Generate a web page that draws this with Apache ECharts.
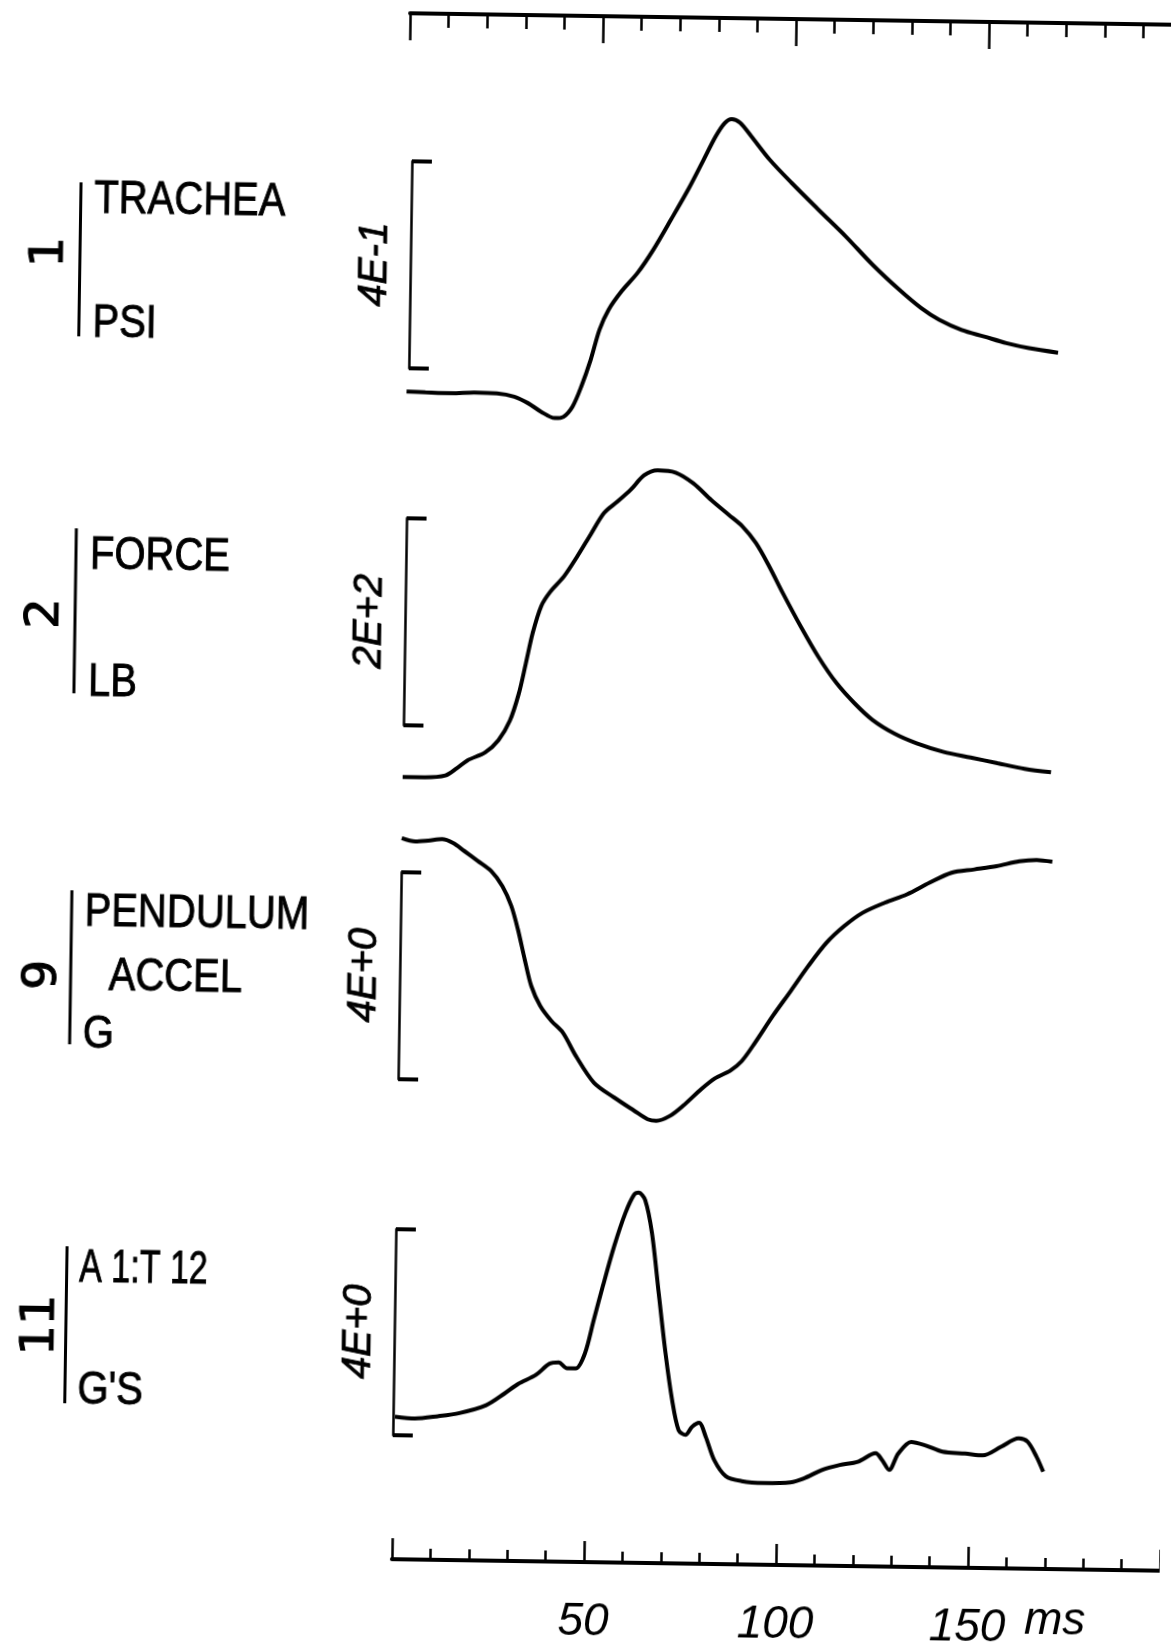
<!DOCTYPE html>
<html>
<head>
<meta charset="utf-8">
<script src="https://cdn.jsdelivr.net/npm/echarts@6/dist/echarts.min.js"></script>
<style>
  html, body { margin: 0; padding: 0; background: #fff; overflow: hidden; }
  #main { position: absolute; left: 0; top: 0; width: 1171px; height: 1646px; transform: rotate(0.86deg); }
</style>
</head>
<body>
<div id="main"></div>
<script>
// channel 1 - trachea pressure (psi)
const tracheaMs = [-0.5, 4.4, 11.3, 17.1, 23.0, 27.6, 31.2, 34.6, 38.2, 40.5, 42.8, 45.0, 47.3, 49.5, 51.8, 55.1, 59.2, 63.2, 67.7, 72.3, 75.6, 79.0, 81.3, 83.1, 85.3, 88.3, 93.1, 99.0, 106.1, 113.2, 120.3, 127.4, 133.2, 137.9, 143.8, 149.7, 155.5, 161.4, 169.0];
const tracheaPsi = [-0.045, -0.046, -0.047, -0.045, -0.046, -0.052, -0.064, -0.080, -0.092, -0.089, -0.069, -0.030, 0.021, 0.080, 0.119, 0.155, 0.191, 0.236, 0.295, 0.357, 0.406, 0.457, 0.483, 0.491, 0.484, 0.458, 0.414, 0.369, 0.318, 0.268, 0.214, 0.166, 0.131, 0.109, 0.090, 0.078, 0.066, 0.057, 0.049];

// channel 2 - force (lb)
const forceMs = [0.0, 5.8, 11.1, 14.0, 16.8, 21.4, 24.8, 27.7, 29.9, 31.6, 33.3, 35.4, 37.7, 41.2, 44.5, 48.0, 51.4, 54.8, 58.3, 61.7, 65.2, 69.9, 74.5, 79.3, 83.9, 87.5, 91.1, 94.6, 98.3, 103.1, 107.8, 112.6, 117.3, 122.1, 127.9, 133.7, 140.8, 147.8, 154.8, 161.9, 168.8];
const forceLb = [-50, -50, -48, -41, -33, -25, -13, 6, 32, 61, 91, 117, 131, 146, 165, 187, 208, 219, 231, 245, 250, 248, 238, 222, 208, 197, 181, 159, 133, 101, 72, 47, 28, 12, -1, -10, -18, -23, -28, -33, -36];

// channel 9 - pendulum accel (G)
const pendMs = [0.0, 3.5, 6.9, 10.5, 13.4, 16.3, 19.9, 23.4, 26.4, 28.8, 30.6, 32.5, 34.3, 36.7, 39.7, 42.7, 46.2, 51.0, 56.3, 61.6, 65.1, 67.4, 70.9, 74.3, 79.0, 82.5, 86.4, 89.4, 92.8, 97.3, 101.9, 106.4, 111.0, 115.6, 120.3, 126.0, 131.8, 137.6, 143.3, 149.2, 155.0, 160.9, 165.4, 169.5];
const pendG = [4.66, 4.60, 4.62, 4.65, 4.58, 4.43, 4.24, 4.05, 3.76, 3.38, 2.93, 2.35, 1.84, 1.46, 1.17, 0.95, 0.50, -0.01, -0.29, -0.54, -0.70, -0.73, -0.63, -0.43, -0.10, 0.11, 0.26, 0.45, 0.81, 1.33, 1.82, 2.31, 2.76, 3.09, 3.35, 3.55, 3.72, 3.95, 4.15, 4.22, 4.29, 4.39, 4.42, 4.39];

// channel 11 - A1:T12 (G's)
const spineMs = [0.5, 5.7, 11.6, 17.3, 24.2, 28.9, 32.4, 37.0, 40.5, 42.9, 45.1, 47.4, 49.7, 51.9, 54.1, 56.9, 59.7, 61.9, 63.1, 64.8, 66.7, 68.7, 70.7, 72.6, 74.4, 76.2, 77.9, 79.7, 81.5, 83.8, 86.9, 91.0, 96.8, 103.7, 107.2, 111.9, 116.5, 121.2, 125.8, 127.5, 129.4, 131.7, 135.0, 138.6, 143.2, 149.1, 153.7, 158.4, 163.0, 165.3, 167.7, 169.5];
const spineG = [0.36, 0.33, 0.38, 0.45, 0.61, 0.84, 1.03, 1.21, 1.43, 1.46, 1.35, 1.35, 1.64, 2.30, 2.95, 3.73, 4.38, 4.74, 4.78, 4.64, 4.00, 2.83, 1.67, 0.76, 0.18, 0.09, 0.25, 0.33, 0.06, -0.39, -0.70, -0.79, -0.82, -0.80, -0.72, -0.55, -0.45, -0.38, -0.21, -0.34, -0.53, -0.21, 0.02, -0.04, -0.16, -0.19, -0.22, -0.05, 0.12, 0.06, -0.23, -0.52];

// scale brackets (full bracket = one division) and their labels
const scaleMax = [0.4, 200, 4, 4];
const scaleNames = ['4E-1', '2E+2', '4E+0', '4E+0'];
const channelNums = ['1', '2', '9', '11'];
const channelLabels = [['TRACHEA', 'PSI'], ['FORCE', 'LB'], ['PENDULUM', 'ACCEL', 'G'], ['A 1:T 12', "G'S"]];

// time axis
const timeMin = 0, timeMax = 200, timeStep = 50;
const labeledTicks = [50, 100, 150];

const FONT = 'Liberation Sans, Arial, sans-serif';
const panelTop = [164, 521, 875, 1232];
const panelH = [207, 207, 207, 206];

const chart = echarts.init(document.getElementById('main'));

const curves = [
  [tracheaMs, tracheaPsi],
  [forceMs, forceLb],
  [pendMs, pendG],
  [spineMs, spineG]
];

const grid = [], xAxis = [], yAxis = [], series = [];
curves.forEach((c, i) => {
  grid.push({ left: 402, width: 768, top: panelTop[i], height: panelH[i], outerBoundsMode: 'none', containLabel: false });
  xAxis.push({ type: 'value', gridIndex: i, min: timeMin, max: timeMax, show: false });
  yAxis.push({
    type: 'value', gridIndex: i, min: 0, max: scaleMax[i], interval: scaleMax[i],
    position: 'left',
    axisLine: { show: true, onZero: false, lineStyle: { color: '#000', width: 2.5 } },
    axisTick: { show: true, inside: true, length: 20, lineStyle: { color: '#000', width: 4 } },
    axisLabel: { show: false },
    splitLine: { show: false },
    name: scaleNames[i],
    nameLocation: 'middle',
    nameRotate: 90,
    nameGap: 15,
    nameTextStyle: { color: '#000', fontSize: 40, fontStyle: 'italic', fontFamily: FONT,
      textBorderColor: '#000', textBorderWidth: 0.8 }
  });
  series.push({
    type: 'line', xAxisIndex: i, yAxisIndex: i,
    data: c[0].map((t, k) => [t, c[1][k]]),
    showSymbol: false, symbol: 'none', smooth: 0.3, clip: false,
    lineStyle: { color: '#000', width: 4 }
  });
});

// top time scale
grid.push({ left: 398, width: 772, top: 16, height: 50, outerBoundsMode: 'none', containLabel: false });
xAxis.push({
  type: 'value', gridIndex: 4, position: 'top', min: timeMin, max: timeMax, interval: timeStep,
  axisLine: { show: true, onZero: false, lineStyle: { color: '#000', width: 4 } },
  axisTick: { show: true, inside: true, length: 27, lineStyle: { color: '#000', width: 2.5 } },
  minorTick: { show: true, splitNumber: 5, length: 14, lineStyle: { color: '#000', width: 2.5 } },
  axisLabel: { show: false },
  splitLine: { show: false }
});
yAxis.push({ type: 'value', gridIndex: 4, show: false, min: 0, max: 1 });

// bottom time scale
grid.push({ left: 403, width: 768, top: 1462, height: 100, outerBoundsMode: 'none', containLabel: false });
xAxis.push({
  type: 'value', gridIndex: 5, position: 'bottom', min: timeMin, max: timeMax, interval: timeStep,
  axisLine: { show: true, onZero: false, lineStyle: { color: '#000', width: 4 } },
  axisTick: { show: true, inside: true, length: 21, lineStyle: { color: '#000', width: 2.5 } },
  minorTick: { show: true, splitNumber: 5, length: 11, lineStyle: { color: '#000', width: 2.5 } },
  axisLabel: {
    show: true, margin: 37, color: '#000', fontSize: 46, fontStyle: 'italic', fontFamily: FONT,
    formatter: v => labeledTicks.includes(v) ? String(v) : ''
  },
  splitLine: { show: false }
});
yAxis.push({ type: 'value', gridIndex: 5, show: false, min: 0, max: 1 });

// left-hand channel captions
const numPos = [[42, 261], [43, 622], [46, 983], [49, 1334]];
const sepPos = [[71.5, 190, 344], [72, 536, 701], [73, 898, 1052], [73.5, 1254, 1411]];
const labelPos = [
  [[85, 207], [85, 331]],
  [[86, 563], [86, 690]],
  [[86, 920], [111, 984], [86, 1042]],
  [[86, 1276], [86, 1398]]
];

const graphic = [];
channelNums.forEach((n, i) => {
  graphic.push({
    type: 'text', x: numPos[i][0], y: numPos[i][1], rotation: Math.PI / 2, scaleX: 1.1,
    style: { text: n, font: '46px "DejaVu Sans Mono", monospace', fill: '#000',
      stroke: '#000', lineWidth: 1,
      align: 'center', verticalAlign: 'middle', textAlign: 'center', textVerticalAlign: 'middle' }
  });
  graphic.push({
    type: 'line', shape: { x1: sepPos[i][0], y1: sepPos[i][1], x2: sepPos[i][0], y2: sepPos[i][2] },
    style: { stroke: '#000', lineWidth: 3 }
  });
  channelLabels[i].forEach((t, k) => {
    graphic.push({
      type: 'text', x: labelPos[i][k][0], y: labelPos[i][k][1],
      scaleY: 1.15, scaleX: t === 'A 1:T 12' ? 0.85 : 1,
      style: { text: t, font: '40px ' + FONT, fill: '#000', stroke: '#000', lineWidth: 0.8,
        align: 'left', verticalAlign: 'middle', textAlign: 'left', textVerticalAlign: 'middle' }
    });
  });
});
// unit after the 150 tick
graphic.push({
  type: 'text', x: 1036, y: 1614,
  style: { text: 'ms', font: 'italic 46px ' + FONT, fill: '#000',
    align: 'left', verticalAlign: 'middle', textAlign: 'left', textVerticalAlign: 'middle' }
});

chart.setOption({
  animation: false,
  backgroundColor: '#fff',
  grid: grid,
  xAxis: xAxis,
  yAxis: yAxis,
  series: series,
  graphic: graphic
});
</script>
</body>
</html>
